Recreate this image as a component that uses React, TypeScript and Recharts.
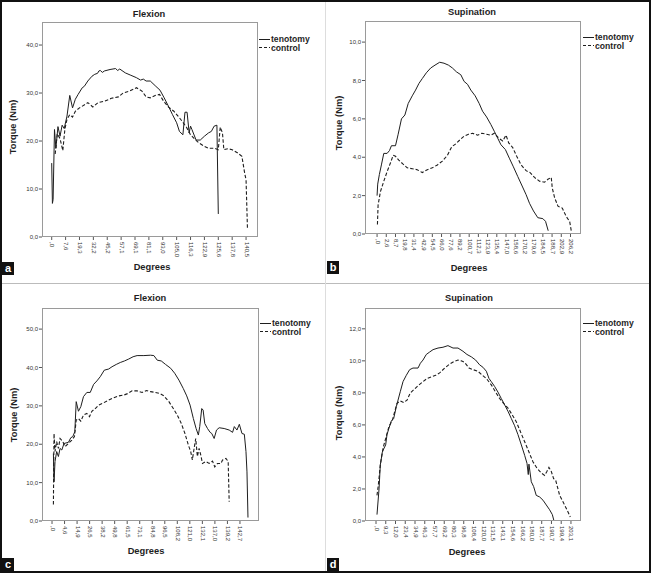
import React from 'react';
import { LineChart, Line, XAxis, YAxis } from 'recharts';

type Pt = [number, number];

// ---------- Panel a : Flexion ----------
const flexATicks = [',0', '7,6', '19,3', '32,2', '45,2', '57,1', '69,1', '81,1', '93,0', '105,0', '116,3', '122,9', '125,6', '137,8', '140,5'];
const flexAYTicks = [0, 10, 20, 30, 40];
const flexATenotomy: Pt[] = [
  [0, 15.4], [0.5, 7.0], [1, 7.8], [2, 22.4], [3, 18.5], [4.5, 23.0], [6, 21.0], [7.5, 23.3], [9, 22.6],
  [11, 25.2], [13, 29.5], [15, 26.9], [17, 28.7], [19, 29.7], [22, 31.1], [23.5, 31.4], [26, 32.5],
  [29, 33.5], [31, 33.9], [33, 34.1], [34, 34.6], [35, 34.7], [36.5, 34.3], [38, 34.6], [42, 34.9], [46, 35.1],
  [47.5, 34.7], [49, 35.0], [53, 34.2], [57, 33.7], [61, 33.2], [64, 32.7], [66, 32.9], [68, 32.5], [71, 32.5],
  [75, 31.4], [78, 30.6], [81, 29.0],
  [84, 27.3], [87, 25.5], [90, 23.8], [92, 22.0], [94.5, 21.3], [96, 26.0], [97.5, 26.0], [99, 21.7],
  [100, 23.1], [101, 22.4], [104, 20.2], [107, 20.2], [110, 21.0], [113, 21.7], [115, 22.0],
  [117, 23.1], [119, 23.3], [120, 4.8],
];
const flexAControl: Pt[] = [
  [2.5, 17.3], [4, 21.5], [6, 20.5], [8, 18.0], [9.5, 22.5], [11, 24.5], [13, 25.5], [15, 25.0],
  [17, 26.2], [20, 26.9], [24, 27.6], [26, 28.0], [29.6, 27.1], [33.3, 28.0], [38, 28.3], [43, 28.9],
  [48, 29.2], [51.5, 30.0], [56, 30.4], [61, 31.1], [65, 30.4], [68, 29.2], [71, 29.0], [74.5, 29.5],
  [77.7, 29.7], [80.6, 28.3], [84, 27.1], [88, 26.2], [91, 25.2], [94, 24.1], [97, 22.9], [100, 21.3],
  [103, 20.4], [106, 19.6], [110, 18.9], [113, 18.5], [117, 18.5], [120, 18.2], [121.4, 22.9],
  [123, 21.7], [124, 18.2], [127, 18.4], [130, 18.2], [134, 17.5], [137, 16.8], [139, 13.3],
  [140, 11.9], [141, 1.8],
];

// ---------- Panel b : Supination ----------
const supBTicks = [',0', '2,6', '8,7', '19,8', '31,4', '42,9', '54,5', '66,0', '77,6', '89,2', '100,7', '112,3', '123,9', '135,4', '147,0', '158,6', '170,2', '179,6', '184,5', '188,7', '202,9', '206,2'];
const supBYTicks = [0, 2, 4, 6, 8, 10];
const supBTenotomy: Pt[] = [
  [0, 2.0], [0.7, 2.6], [2.5, 3.1], [4.7, 3.6], [7.3, 4.2], [10.9, 4.2], [13.5, 4.35], [15.6, 4.6],
  [20, 4.6], [22.9, 5.2], [26.5, 6.0], [30.2, 6.2], [33.8, 6.8], [38.2, 7.2], [41.8, 7.5], [45.5, 7.85],
  [49.1, 8.1], [53.5, 8.4], [58.2, 8.65], [62.9, 8.8], [68, 8.95], [72.7, 8.9], [77.5, 8.8],
  [81.8, 8.65], [86.2, 8.45], [90.9, 8.3], [94.5, 7.95], [98.2, 7.8], [101.8, 7.5], [106.5, 7.2],
  [110.9, 6.8], [114.5, 6.4], [118.9, 6.1], [123.6, 5.7], [127.3, 5.35], [130.9, 5.0], [134.5, 4.65],
  [139.3, 4.4], [143.6, 3.95], [148, 3.5], [152.7, 3.0], [157.5, 2.5], [161.8, 2.05], [165.5, 1.6],
  [169.8, 1.2], [174.5, 0.85], [180, 0.8], [182.9, 0.66], [185.8, 0.17],
];
const supBControl: Pt[] = [
  [0.4, 0.5], [1.1, 1.5], [3.6, 2.2], [7.3, 2.75], [10.9, 3.25], [14.5, 3.7], [17.5, 4.1], [20, 4.05],
  [23.6, 3.85], [28, 3.65], [32.7, 3.45], [38.2, 3.4], [43.6, 3.35], [49.1, 3.2], [54.5, 3.35],
  [60, 3.45], [65.5, 3.6], [70.9, 3.8], [76.4, 4.1], [81.1, 4.55], [85.5, 4.7], [89.8, 4.9],
  [94.5, 5.1], [99.3, 5.2], [103.6, 5.25], [109.1, 5.15], [113.8, 5.25], [118.9, 5.2], [123.6, 5.15],
  [127.3, 5.25], [132, 5.0], [136.4, 4.85], [140, 5.15], [142.9, 4.75], [147.3, 4.5], [151.6, 4.05],
  [156.4, 3.6], [161.8, 3.3], [166.2, 3.2], [170.9, 2.95], [176.4, 2.75], [181.8, 2.7], [185.5, 2.85],
  [189.1, 2.95], [190.2, 2.4], [192.7, 1.9], [196.4, 1.45], [201.1, 1.35], [205.5, 0.9], [209.1, 0.65],
  [210.9, 0.15],
];

// ---------- Panel c : Flexion ----------
const flexCTicks = [',0', '4,6', '14,9', '26,5', '38,2', '49,8', '61,5', '73,1', '84,8', '96,5', '108,2', '121,0', '132,1', '137,0', '139,2', '142,7'];
const flexCYTicks = [0, 10, 20, 30, 40, 50];
const flexCTenotomy: Pt[] = [
  [1.1, 17.6], [1.6, 10.2], [2.4, 15.5], [3.7, 18.1], [5.1, 16.8], [6.4, 18.9], [7.8, 18.5], [9.6, 20.2],
  [13.1, 20.5], [15, 21.7], [16.6, 22.0], [18.2, 23.3], [19.3, 31.1], [21.1, 28.6], [23, 29.8],
  [25.1, 32.4], [27.8, 33.5], [30.5, 33.5], [33.2, 35.6], [35.8, 36.5], [38.5, 37.6], [41.7, 39.3],
  [45.2, 39.6], [47.9, 40.2], [51.3, 40.8], [54.5, 41.3], [57.8, 41.7], [61.2, 42.2], [64.7, 42.8],
  [67.9, 43.1], [73.3, 43.1], [78.6, 43.2], [81.3, 43.1], [84, 41.9], [87.2, 41.7], [90.6, 40.8],
  [94.7, 39.8], [97.9, 38.5], [101.3, 36.7], [104.8, 34.5], [107.5, 32.6], [110.2, 30.2], [112.8, 26.7],
  [115, 24.1], [116.8, 22.4], [117.9, 24.6], [119.5, 29.3], [120.6, 28.9], [121.9, 25.4], [124.1, 24.1],
  [126.2, 23.1], [127.5, 22.8], [129.4, 21.5], [131.3, 23.7], [133.4, 24.3], [137.4, 24.1], [141.4, 23.7],
  [144.1, 23.1], [145.5, 24.6], [147.6, 23.7], [149.5, 25.2], [151.6, 22.8], [153.5, 22.6], [154.8, 18.1],
  [155.6, 12.8], [156.4, 0.9],
];
const flexCControl: Pt[] = [
  [1.1, 4.3], [1.6, 22.8], [2.4, 18.1], [3.7, 20.7], [5.1, 18.9], [6.4, 21.5], [8.6, 20.7], [10.4, 19.4],
  [13.1, 20.2], [15.8, 21.1], [17.9, 22.0], [19.3, 26.3], [21.1, 26.7], [23, 26.0], [25.1, 27.6],
  [27.8, 28.0], [29.9, 27.2], [31.8, 28.6], [34.5, 29.3], [37.2, 30.2], [41.2, 30.8], [45.2, 31.5],
  [49.2, 32.1], [53.2, 32.6], [57.2, 32.8], [60.4, 33.2], [63.9, 33.9], [67.9, 33.9], [71.9, 33.5],
  [75.4, 34.0], [78.6, 33.7], [82.6, 33.5], [86.1, 33.2], [89.3, 32.6], [93.3, 31.1], [96.8, 29.3],
  [100, 27.6], [103.2, 25.4], [106.1, 22.8], [108.8, 19.8], [110.7, 18.1], [112, 15.9], [113.4, 18.9],
  [114.7, 21.5], [116, 16.8], [117.4, 18.9], [118.7, 17.2], [120.1, 15.0], [122.7, 15.5], [125.4, 15.0],
  [128.1, 15.6], [129.9, 14.1], [132.1, 15.0], [134.8, 15.0], [136.1, 15.9], [138.8, 16.3], [140.6, 15.5],
  [141.4, 5.0],
];

// ---------- Panel d : Supination ----------
const supDTicks = [',0', '9,3', '12,0', '23,4', '34,9', '46,3', '57,7', '69,2', '80,3', '96,8', '108,4', '120,0', '131,5', '143,1', '154,6', '166,2', '180,0', '187,7', '190,7', '199,4', '203,1'];
const supDYTicks = [0, 2, 4, 6, 8, 10, 12];
const supDTenotomy: Pt[] = [
  [1, 0.4], [3.1, 2.0], [4.4, 3.5], [6.5, 4.3], [7.9, 4.5], [9.9, 4.75], [11.3, 5.4], [13.3, 5.8],
  [15.7, 6.25], [18.1, 6.4], [20.9, 7.15], [22.6, 7.55], [25, 8.1], [27.7, 8.7], [31.1, 9.1],
  [34.5, 9.45], [37.9, 9.55], [43.1, 9.55], [45.5, 9.85], [48.2, 10.05], [51.6, 10.4], [55, 10.55],
  [58.5, 10.7], [63.6, 10.8], [68.7, 10.85], [73.8, 10.95], [79, 10.8], [84.1, 10.8], [89.2, 10.6],
  [93.3, 10.4], [97.8, 10.25], [102.2, 10.05], [106.3, 9.75], [109.7, 9.6], [113.2, 9.35], [115.9, 8.9],
  [118.3, 8.7], [121.7, 8.4], [125.1, 8.05], [128.5, 7.65], [132, 7.25], [135.4, 6.85], [138.8, 6.4],
  [142.2, 5.95], [145.6, 5.4], [149.1, 4.75], [152.5, 4.1], [154.9, 3.6], [156.2, 2.9], [156.9, 3.55],
  [159.3, 2.45], [161.7, 2.15], [164.4, 1.6], [167.9, 1.5], [171.3, 1.3], [174.7, 1.0], [178.1, 0.7],
  [180.9, 0.4], [182.6, 0.0],
];
const supDControl: Pt[] = [
  [1, 1.6], [2.4, 2.25], [4.4, 3.5], [7.2, 4.55], [9.9, 5.15], [13.3, 5.9], [16.8, 6.3], [19.5, 6.9],
  [21.5, 7.35], [25, 7.5], [28.4, 7.4], [31.8, 7.55], [35.2, 8.0], [39.7, 8.25], [44.1, 8.5], [48.2, 8.7],
  [52.3, 8.9], [56.8, 9.0], [61.2, 9.1], [65.3, 9.25], [70.4, 9.55], [75.6, 9.8], [79.7, 9.95],
  [84.1, 10.05], [87.5, 10.0], [90.9, 9.9], [95.4, 9.55], [99.5, 9.45], [104.6, 9.35], [109.1, 9.1],
  [113.2, 8.9], [118.3, 8.5], [122.7, 8.05], [126.8, 7.65], [130.9, 7.35], [135.4, 7.05], [139.5, 6.65],
  [143.9, 6.2], [148, 5.6], [152.5, 4.95], [156.6, 4.35], [161, 3.7], [165.1, 3.3], [169.6, 3.0],
  [173, 2.85], [175.4, 3.1], [177.4, 3.35], [179.8, 3.1], [182.2, 2.65], [184.3, 2.55], [188.4, 1.6],
  [191.8, 1.2], [195.9, 0.7], [199.3, 0.25],
];

const FONT = '"Liberation Sans", Arial, Helvetica, sans-serif';
const INK = '#1e1e1e';
const FRAME = '#9a9a9a';

const rows = (pts: Pt[]) => pts.map(([x, y]) => ({ x, y }));

type PanelCfg = {
  ox: number; oy: number;
  plot: { l: number; t: number; r: number; b: number };
  xDomain: [number, number];
  yMax: number;
  yTicks: number[];
  xLabels: string[];
  ten: Pt[]; ctl: Pt[];
  title: string; titleX: number; titleY: number;
  letter: string; letterY: number;
  yLabelX: number; yLabelY: number;
  xLabelX: number; xLabelY: number;
  legX: number; legY: number;
};

const panels: PanelCfg[] = [
  {
    ox: 0, oy: 0, plot: { l: 42, t: 22, r: 258, b: 237 }, xDomain: [-7, 148.6], yMax: 44.8,
    yTicks: flexAYTicks, xLabels: flexATicks, ten: flexATenotomy, ctl: flexAControl,
    title: 'Flexion', titleX: 149, titleY: 15, letter: 'a', letterY: 262,
    yLabelX: 14, yLabelY: 127, xLabelX: 152, xLabelY: 268, legX: 259, legY: 40,
  },
  {
    ox: 325, oy: 0, plot: { l: 365, t: 21, r: 581, b: 234 }, xDomain: [-13.1, 221.4], yMax: 11.1,
    yTicks: supBYTicks, xLabels: supBTicks, ten: supBTenotomy, ctl: supBControl,
    title: 'Supination', titleX: 472, titleY: 13, letter: 'b', letterY: 261,
    yLabelX: 340, yLabelY: 123, xLabelX: 469, xLabelY: 269, legX: 583, legY: 38,
  },
  {
    ox: 0, oy: 284, plot: { l: 42, t: 308, r: 259, b: 521 }, xDomain: [-8, 165.2], yMax: 55.5,
    yTicks: flexCYTicks, xLabels: flexCTicks, ten: flexCTenotomy, ctl: flexCControl,
    title: 'Flexion', titleX: 150, titleY: 299, letter: 'c', letterY: 558,
    yLabelX: 15, yLabelY: 415, xLabelX: 146, xLabelY: 552, legX: 260, legY: 324,
  },
  {
    ox: 325, oy: 284, plot: { l: 365, t: 308, r: 581, b: 521 }, xDomain: [-11.3, 210.3], yMax: 13.3,
    yTicks: supDYTicks, xLabels: supDTicks, ten: supDTenotomy, ctl: supDControl,
    title: 'Supination', titleX: 469, titleY: 299, letter: 'd', letterY: 558,
    yLabelX: 340, yLabelY: 413, xLabelX: 467, xLabelY: 553, legX: 583, legY: 324,
  },
];

const textStyle: React.CSSProperties = {
  position: 'absolute', fontFamily: FONT, fontWeight: 'bold', fontSize: 9.3, color: INK,
  whiteSpace: 'nowrap', lineHeight: 1,
};

const makeXTick = (labels: string[]) => (props: any) => {
  const { x, y, payload } = props;
  const idx = Math.round(payload.value / 10);
  return (
    <text
      transform={`translate(${x + 0.5},${y}) rotate(90)`}
      textAnchor="start"
      dominantBaseline="central"
      fontSize={6}
      fontFamily={FONT}
      fill="#333"
    >
      {labels[idx]}
    </text>
  );
};

function Panel({ c }: { c: PanelCfg }) {
  const chartW = 325;
  const chartLeft = c.ox;
  const chartTop = c.plot.t - 2;
  const chartH = c.plot.b - chartTop + 30;
  const yW = c.plot.l - chartLeft;
  const margin = { top: 2, right: chartW - (c.plot.r - chartLeft), left: 0, bottom: 0 };
  const xH = 30;
  const xTicks = c.xLabels.map((_, i) => i * 10);
  const TickComp = makeXTick(c.xLabels);
  return (
    <>
      <div style={{ position: 'absolute', left: chartLeft, top: chartTop }}>
        <LineChart width={chartW} height={chartH} margin={margin}>
          <XAxis
            type="number" dataKey="x" domain={c.xDomain} ticks={xTicks} allowDataOverflow
            axisLine={false} tickLine={{ stroke: '#555' }} tickSize={3} tick={TickComp}
            height={xH} interval={0}
          />
          <YAxis
            type="number" dataKey="y" domain={[0, c.yMax]} ticks={c.yTicks} allowDataOverflow
            axisLine={false} tickLine={{ stroke: '#555' }} tickSize={3} tickMargin={1} width={yW}
            tick={{ fontSize: 6, fill: '#333', fontFamily: FONT }}
            tickFormatter={(v: number) => v.toFixed(1).replace('.', ',')}
            interval={0}
          />
          <Line data={rows(c.ctl)} dataKey="y" type="linear" stroke={INK} strokeWidth={1.1}
            strokeDasharray="3.5 2" dot={false} isAnimationActive={false} />
          <Line data={rows(c.ten)} dataKey="y" type="linear" stroke={INK} strokeWidth={1}
            dot={false} isAnimationActive={false} />
        </LineChart>
      </div>
      <div style={{
        position: 'absolute', left: c.plot.l, top: c.plot.t,
        width: c.plot.r - c.plot.l, height: c.plot.b - c.plot.t,
        border: `1px solid ${FRAME}`, boxSizing: 'border-box', pointerEvents: 'none',
      }} />
      <div style={{ ...textStyle, left: c.titleX, top: c.titleY, transform: 'translate(-50%,-50%)' }}>{c.title}</div>
      <div style={{ ...textStyle, left: c.xLabelX, top: c.xLabelY, transform: 'translate(-50%,-50%)' }}>Degrees</div>
      <div style={{ ...textStyle, left: c.yLabelX, top: c.yLabelY, transform: 'translate(-50%,-50%) rotate(-90deg)' }}>Torque (Nm)</div>
      <svg style={{ position: 'absolute', left: c.legX, top: c.legY - 1 }} width={12} height={10}>
        <line x1={0} y1={0.5} x2={11} y2={0.5} stroke={INK} strokeWidth={1} />
        <line x1={0} y1={8.5} x2={11} y2={8.5} stroke={INK} strokeWidth={1.1} strokeDasharray="3 2" />
      </svg>
      <div style={{ ...textStyle, fontSize: 8.6, lineHeight: '8px', height: 8, left: c.legX + 12, top: c.legY - 5 }}>tenotomy</div>
      <div style={{ ...textStyle, fontSize: 8.6, lineHeight: '8px', height: 8, left: c.legX + 12, top: c.legY + 4 }}>control</div>
      <div style={{
        position: 'absolute', left: c.ox + 2, top: c.letterY, width: 12, height: 13, background: '#111',
        color: '#fff', fontFamily: FONT, fontWeight: 'bold', fontSize: 11, lineHeight: '13px', textAlign: 'center',
      }}>{c.letter}</div>
    </>
  );
}

export default function App() {
  return (
    <div style={{ position: 'absolute', left: 0, top: 0, width: 651, height: 573, background: '#fff', overflow: 'hidden' }}>
      {panels.map((p, i) => <Panel key={i} c={p} />)}
      <div style={{ position: 'absolute', left: 0, top: 283, width: 651, height: 1, background: '#bbb' }} />
      <div style={{ position: 'absolute', left: 325, top: 0, width: 1, height: 573, background: '#ddd' }} />
      <div style={{ position: 'absolute', left: 0, top: 0, width: 651, height: 573, border: '2px solid #111', boxSizing: 'border-box', pointerEvents: 'none' }} />
    </div>
  );
}
